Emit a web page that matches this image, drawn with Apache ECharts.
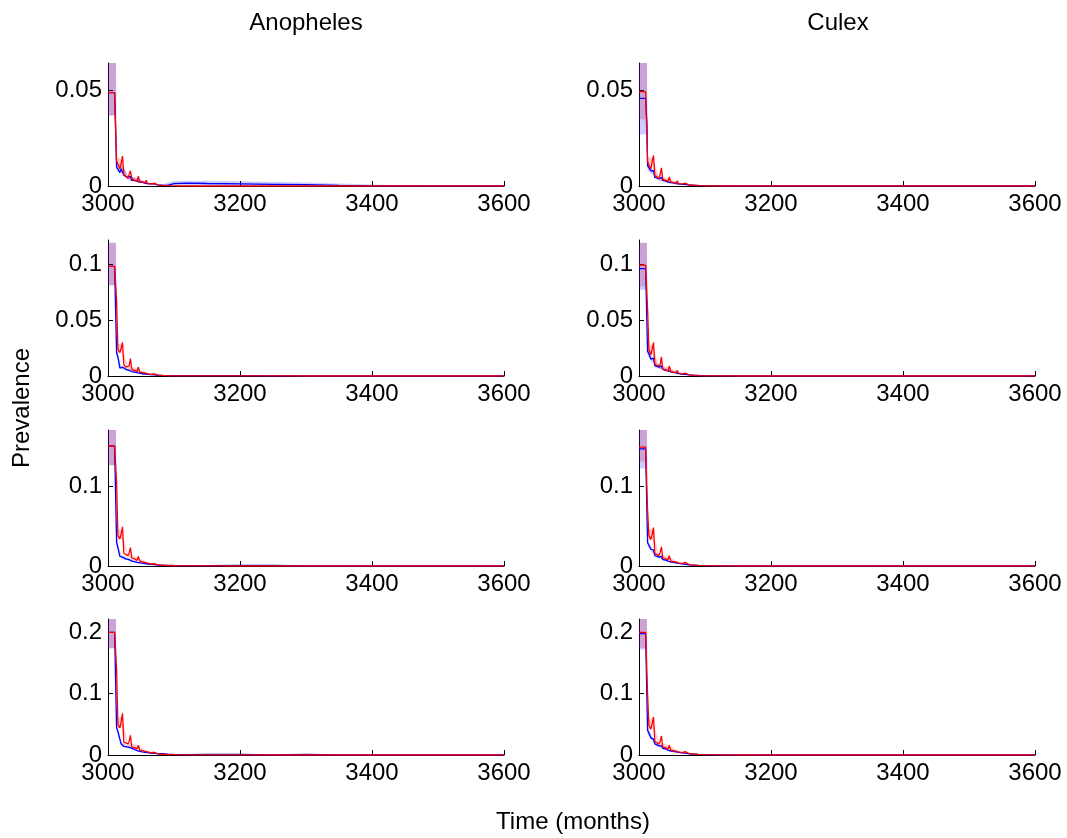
<!DOCTYPE html>
<html><head><meta charset="utf-8">
<script src="https://cdn.jsdelivr.net/npm/echarts@6/dist/echarts.min.js"></script>
<style>html,body{margin:0;padding:0;background:#fff}#c{width:1067px;height:838px}</style>
</head><body><div id="c"></div>
<script>
// time (months) for the lines
const T = [3000,3010,3012,3013,3015, 3018,3020,3022,3024,3027, 3030,3032,3034,3036,3040, 3044,3046,3048,3052,3056, 3058,3060,3065,3070,3072, 3076,3082,3090,3100,3120, 3150,3200,3250,3300,3350, 3400,3500,3600];
// time (months) for the shaded bands
const TB = [3000,3012,3013,3020,3030, 3045,3060,3080,3100,3150, 3200,3300,3400,3500,3600];

const colTitles = ['Anopheles', 'Culex'];
const xTickVals = [3000, 3200, 3400, 3600];
const yMaxRows = [0.0645, 0.1215, 0.170, 0.2217];
const yTickRows = [[0, 0.05], [0, 0.05, 0.1], [0, 0.1], [0, 0.1, 0.2]];

// ---- Row 1 ----
const A1_red  = [0.049,0.049,0.049,0.013,0.0115, 0.009,0.012,0.0157,0.006,0.005, 0.004,0.0045,0.008,0.004,0.003, 0.0025,0.0052,0.002,0.002,0.0016, 0.003,0.0013,0.001,0.0015,0.0007, 0.0005,0.0003,0.0002,0.0001,0, 0,0,0,0,0, 0,0,0];
const A1_blue = [0.049,0.049,0.049,0.010,0.0105, 0.007,0.009,0.0095,0.0055,0.006, 0.0045,0.004,0.005,0.003,0.003, 0.0025,0.003,0.002,0.0022,0.0015, 0.0022,0.0012,0.0012,0.0011,0.0008, 0.0006,0.0004,0.0003,0.0012,0.0015, 0.0013,0.0011,0.0009,0.0007,0.0003, 0.0001,0,0];
const A1_redLo  = [0.037,0.037,0.011,0.010,0.003, 0.002,0.001,0.0002,0,0, 0,0,0,0,0];
const A1_redHi  = [0.07,0.07,0.015,0.014,0.005, 0.004,0.002,0.0006,0.0002,0.0001, 0.0001,0.0001,0,0,0];
const A1_blueLo = [0.037,0.037,0.008,0.007,0.0035, 0.002,0.0008,0.0002,0.0003,0.0005, 0.0004,0.0002,0,0,0];
const A1_blueHi = [0.07,0.07,0.012,0.011,0.0055, 0.004,0.0016,0.0007,0.0026,0.0028, 0.0025,0.0018,0.0008,0,0];

const C1_red  = [0.0495,0.0495,0.0495,0.0128,0.011, 0.009,0.013,0.016,0.0055,0.005, 0.004,0.006,0.0095,0.0035,0.003, 0.0025,0.0048,0.0022,0.0018,0.0015, 0.0027,0.0012,0.001,0.0015,0.0008, 0.0005,0.0005,0.0002,0.0001,0, 0,0,0,0,0, 0,0,0];
const C1_blue = [0.046,0.046,0.033,0.0107,0.0095, 0.008,0.0075,0.008,0.0045,0.0045, 0.0038,0.0035,0.0045,0.003,0.0027, 0.002,0.0025,0.0018,0.0016,0.0013, 0.0016,0.0011,0.0009,0.0008,0.0006, 0.0005,0.0004,0.0003,0.0002,0.0001, 0,0,0,0,0, 0,0,0];
const C1_redLo  = [0.035,0.035,0.011,0.011,0.003, 0.002,0.0008,0.0003,0,0, 0,0,0,0,0];
const C1_redHi  = [0.07,0.07,0.015,0.015,0.005, 0.004,0.0016,0.0007,0.0002,0, 0,0,0,0,0];
const C1_blueLo = [0.027,0.027,0.008,0.006,0.0028, 0.0016,0.0007,0.0002,0,0, 0,0,0,0,0];
const C1_blueHi = [0.07,0.07,0.013,0.009,0.0048, 0.003,0.0015,0.0006,0.0004,0.0001, 0,0,0,0,0];

// ---- Row 2 ----
const A2_red  = [0.098,0.098,0.098,0.068,0.024, 0.021,0.025,0.030,0.010,0.008, 0.0075,0.009,0.0155,0.006,0.005, 0.004,0.008,0.0035,0.003,0.0028, 0.0038,0.002,0.0015,0.002,0.001, 0.0008,0.0005,0.0003,0.0002,0.0002, 0.0002,0.0001,0.0001,0,0, 0,0,0];
const A2_blue = [0.098,0.098,0.098,0.021,0.017, 0.007,0.0075,0.008,0.007,0.006, 0.0055,0.005,0.005,0.004,0.0035, 0.003,0.0035,0.0025,0.002,0.0018, 0.002,0.0015,0.0012,0.001,0.0008, 0.0006,0.0005,0.0004,0.0004,0.0004, 0.0003,0.0003,0.0002,0.0001,0, 0,0,0];
const A2_redLo  = [0.081,0.081,0.019,0.021,0.006, 0.004,0.0015,0.0003,0,0, 0,0,0,0,0];
const A2_redHi  = [0.119,0.119,0.028,0.029,0.009, 0.007,0.0025,0.0009,0.0004,0.0003, 0.0002,0.0001,0,0,0];
const A2_blueLo = [0.081,0.081,0.018,0.006,0.0045, 0.0026,0.0011,0.0003,0.0002,0.0002, 0.0001,0,0,0,0];
const A2_blueHi = [0.119,0.119,0.024,0.009,0.0065, 0.004,0.002,0.0008,0.0007,0.0006, 0.0005,0.0003,0.0001,0,0];

const C2_red  = [0.099,0.099,0.099,0.06,0.024, 0.019,0.024,0.030,0.011,0.009, 0.008,0.010,0.017,0.006,0.005, 0.0045,0.009,0.004,0.0035,0.003, 0.005,0.0025,0.0018,0.0025,0.0012, 0.001,0.0007,0.0004,0.0002,0.0001, 0,0,0,0,0, 0,0,0];
const C2_blue = [0.096,0.096,0.096,0.022,0.02, 0.015,0.014,0.016,0.009,0.009, 0.008,0.0075,0.009,0.006,0.0055, 0.0045,0.005,0.0038,0.0032,0.0028, 0.003,0.0022,0.0018,0.0015,0.0012, 0.001,0.0008,0.0006,0.0004,0.0002, 0.0001,0,0,0,0, 0,0,0];
const C2_redLo  = [0.08,0.08,0.019,0.020,0.0065, 0.005,0.0018,0.0005,0,0, 0,0,0,0,0];
const C2_redHi  = [0.119,0.119,0.028,0.028,0.0095, 0.008,0.003,0.001,0.0004,0.0001, 0,0,0,0,0];
const C2_blueLo = [0.077,0.077,0.018,0.012,0.0065, 0.0038,0.0017,0.0005,0.0002,0, 0,0,0,0,0];
const C2_blueHi = [0.119,0.119,0.026,0.017,0.0095, 0.006,0.0028,0.0011,0.0006,0.0002, 0,0,0,0,0];

// ---- Row 3 ----
const A3_red  = [0.150,0.150,0.150,0.105,0.038, 0.034,0.040,0.049,0.016,0.014, 0.013,0.016,0.023,0.010,0.009, 0.007,0.012,0.006,0.005,0.0045, 0.0065,0.0035,0.0025,0.003,0.0018, 0.0013,0.001,0.0006,0.0003,0.0002, 0.0001,0,0,0,0, 0,0,0];
const A3_blue = [0.150,0.150,0.150,0.030,0.028, 0.012,0.011,0.011,0.010,0.009, 0.0085,0.008,0.0075,0.006,0.0055, 0.0045,0.005,0.004,0.0035,0.003, 0.003,0.0025,0.002,0.0017,0.0014, 0.0012,0.001,0.0008,0.0006,0.0004, 0.0003,0.0008,0.0008,0,0, 0,0,0];
const A3_redLo  = [0.126,0.126,0.032,0.034,0.011, 0.007,0.0028,0.0007,0.0001,0, 0,0,0,0,0];
const A3_redHi  = [0.18,0.18,0.045,0.046,0.015, 0.011,0.0042,0.0014,0.0005,0.0003, 0.0002,0,0,0,0];
const A3_blueLo = [0.126,0.126,0.026,0.009,0.007, 0.004,0.002,0.0007,0.0004,0.0001, 0.0005,0,0,0,0];
const A3_blueHi = [0.18,0.18,0.034,0.013,0.010, 0.0058,0.003,0.0014,0.0009,0.0006, 0.0012,0.0004,0,0,0];

const C3_red  = [0.1486,0.1486,0.1486,0.07,0.038, 0.033,0.040,0.048,0.016,0.014, 0.013,0.017,0.024,0.010,0.009, 0.008,0.013,0.006,0.0055,0.005, 0.0075,0.004,0.003,0.0045,0.0022, 0.0017,0.0012,0.0007,0.0004,0.0001, 0,0,0,0,0, 0,0,0];
const C3_blue = [0.1465,0.1465,0.1465,0.029,0.026, 0.021,0.019,0.02,0.013,0.013, 0.011,0.0105,0.012,0.008,0.0075, 0.006,0.0065,0.005,0.0045,0.004, 0.0042,0.0032,0.0026,0.0022,0.0018, 0.0015,0.0012,0.0008,0.0005,0.0002, 0,0,0,0,0, 0,0,0];
const C3_redLo  = [0.1305,0.1305,0.032,0.034,0.011, 0.008,0.0032,0.0009,0.0001,0, 0,0,0,0,0];
const C3_redHi  = [0.18,0.18,0.045,0.047,0.015, 0.012,0.0048,0.0017,0.0007,0.0001, 0,0,0,0,0];
const C3_blueLo = [0.122,0.122,0.025,0.016,0.0095, 0.005,0.0026,0.001,0.0003,0, 0,0,0,0,0];
const C3_blueHi = [0.18,0.18,0.033,0.022,0.0125, 0.0072,0.0038,0.0016,0.0007,0.0002, 0,0,0,0,0];

// ---- Row 4 ----
const A4_red  = [0.200,0.200,0.200,0.141,0.050, 0.044,0.055,0.068,0.021,0.019, 0.018,0.022,0.032,0.013,0.012, 0.010,0.016,0.008,0.007,0.006, 0.0085,0.005,0.0035,0.0045,0.0025, 0.0018,0.0012,0.0008,0.0005,0.0003, 0.0002,0.0001,0,0,0, 0,0,0];
const A4_blue = [0.200,0.200,0.200,0.044,0.039, 0.026,0.018,0.016,0.014,0.0135, 0.013,0.012,0.012,0.010,0.009, 0.007,0.008,0.006,0.005,0.0045, 0.005,0.0038,0.003,0.0032,0.0025, 0.002,0.0022,0.0012,0.0008,0.0005, 0.0008,0.0008,0.0002,0.0008,0, 0,0,0];
const A4_redLo  = [0.174,0.174,0.042,0.047,0.015, 0.010,0.004,0.001,0.0002,0, 0,0,0,0,0];
const A4_redHi  = [0.23,0.23,0.058,0.063,0.021, 0.015,0.006,0.0017,0.0008,0.0004, 0.0002,0,0,0,0];
const A4_blueLo = [0.174,0.174,0.038,0.015,0.011, 0.006,0.003,0.0015,0.0005,0.0005, 0.0005,0.0004,0,0,0];
const A4_blueHi = [0.23,0.23,0.05,0.021,0.015, 0.009,0.0046,0.0028,0.0012,0.0011, 0.0011,0.0012,0.0002,0,0];

const C4_red  = [0.200,0.200,0.200,0.1,0.048, 0.042,0.052,0.062,0.022,0.019, 0.018,0.022,0.031,0.013,0.012, 0.010,0.016,0.008,0.007,0.0065, 0.0095,0.005,0.004,0.0055,0.003, 0.0022,0.0016,0.001,0.0005,0.0002, 0,0,0,0,0, 0,0,0];
const C4_blue = [0.198,0.198,0.198,0.04,0.036, 0.028,0.026,0.026,0.018,0.017, 0.015,0.014,0.015,0.011,0.010, 0.008,0.0085,0.0065,0.006,0.005, 0.0055,0.0042,0.0035,0.003,0.0025, 0.002,0.0016,0.0011,0.0007,0.0004, 0.0001,0,0,0,0, 0,0,0];
const C4_redLo  = [0.175,0.175,0.04,0.045,0.015, 0.010,0.004,0.0013,0.0002,0, 0,0,0,0,0];
const C4_redHi  = [0.23,0.23,0.056,0.06,0.021, 0.016,0.006,0.0021,0.0008,0.0002, 0,0,0,0,0];
const C4_blueLo = [0.172,0.172,0.034,0.022,0.0125, 0.007,0.0035,0.0013,0.0004,0, 0,0,0,0,0];
const C4_blueHi = [0.23,0.23,0.046,0.030,0.0175, 0.010,0.005,0.0021,0.001,0.0003, 0,0,0,0,0];

const panels = [
  {row:0,col:0,red:A1_red,blue:A1_blue,rLo:A1_redLo,rHi:A1_redHi,bLo:A1_blueLo,bHi:A1_blueHi},
  {row:0,col:1,red:C1_red,blue:C1_blue,rLo:C1_redLo,rHi:C1_redHi,bLo:C1_blueLo,bHi:C1_blueHi},
  {row:1,col:0,red:A2_red,blue:A2_blue,rLo:A2_redLo,rHi:A2_redHi,bLo:A2_blueLo,bHi:A2_blueHi},
  {row:1,col:1,red:C2_red,blue:C2_blue,rLo:C2_redLo,rHi:C2_redHi,bLo:C2_blueLo,bHi:C2_blueHi},
  {row:2,col:0,red:A3_red,blue:A3_blue,rLo:A3_redLo,rHi:A3_redHi,bLo:A3_blueLo,bHi:A3_blueHi},
  {row:2,col:1,red:C3_red,blue:C3_blue,rLo:C3_redLo,rHi:C3_redHi,bLo:C3_blueLo,bHi:C3_blueHi},
  {row:3,col:0,red:A4_red,blue:A4_blue,rLo:A4_redLo,rHi:A4_redHi,bLo:A4_blueLo,bHi:A4_blueHi},
  {row:3,col:1,red:C4_red,blue:C4_blue,rLo:C4_redLo,rHi:C4_redHi,bLo:C4_blueLo,bHi:C4_blueHi}
];

// layout
const FONT = '"Liberation Sans", Arial, Helvetica, sans-serif';
const colLeft = [108, 639];
const colWidth = 396;
const rowTop = [63, 240, 430, 619];
const rowHeight = [123, 136, 136, 136];

const grids = [], xAxes = [], yAxes = [], series = [];
const pair = (xs, ys) => xs.map((x, i) => [x, ys[i]]);

function bandSeries(i, xs, lo, hi, color) {
  return {
    type: 'custom', xAxisIndex: i, yAxisIndex: i, silent: true, clip: true, animation: false,
    data: [[xs[0], lo[0]]],
    renderItem: function (params, api) {
      const pts = [];
      for (let k = 0; k < xs.length; k++) pts.push(api.coord([xs[k], hi[k]]));
      for (let k = xs.length - 1; k >= 0; k--) pts.push(api.coord([xs[k], lo[k]]));
      return {type: 'polygon', shape: {points: pts}, style: {fill: color, stroke: null}};
    }
  };
}

panels.forEach((p, i) => {
  grids.push({left: colLeft[p.col], top: rowTop[p.row], width: colWidth, height: rowHeight[p.row], containLabel: false});
  xAxes.push({
    type: 'value', gridIndex: i, min: 3000, max: 3600, interval: 200,
    axisLine: {show: true, onZero: false, lineStyle: {color: '#000', width: 1}},
    axisTick: {show: true, inside: true, length: 5, lineStyle: {color: '#000'}},
    axisLabel: {show: true, fontSize: 24, fontFamily: FONT, color: '#000', margin: 6,
      customValues: xTickVals, formatter: v => String(v)},
    splitLine: {show: false}
  });
  yAxes.push({
    type: 'value', gridIndex: i, min: 0, max: yMaxRows[p.row],
    axisLine: {show: true, onZero: false, lineStyle: {color: '#000', width: 1}},
    axisTick: {show: true, inside: true, length: 5, lineStyle: {color: '#000'}, customValues: yTickRows[p.row]},
    axisLabel: {show: true, fontSize: 24, fontFamily: FONT, color: '#000', margin: 6,
      customValues: yTickRows[p.row], formatter: v => String(v)},
    splitLine: {show: false}
  });
  const base = {xAxisIndex: i, yAxisIndex: i, type: 'line', symbol: 'none', silent: true, animation: false};
  series.push(bandSeries(i, TB, p.rLo, p.rHi, 'rgba(255,0,0,0.2)'));
  series.push(bandSeries(i, TB, p.bLo, p.bHi, 'rgba(0,0,255,0.2)'));
  series.push(Object.assign({}, base, {data: pair(T, p.blue), lineStyle: {color: '#0000ff', width: 1.3}}));
  series.push(Object.assign({}, base, {data: pair(T, p.red), lineStyle: {color: '#ff0000', width: 1.3}}));
});

const chart = echarts.init(document.getElementById('c'), null, {renderer: 'canvas'});
chart.setOption({
  backgroundColor: '#fff',
  animation: false,
  grid: grids, xAxis: xAxes, yAxis: yAxes, series: series,
  graphic: [
    {type: 'text', x: 306, y: 23, style: {text: colTitles[0], font: '24px ' + FONT, fill: '#000', align: 'center', verticalAlign: 'middle'}},
    {type: 'text', x: 838, y: 23, style: {text: colTitles[1], font: '24px ' + FONT, fill: '#000', align: 'center', verticalAlign: 'middle'}},
    {type: 'text', x: 573, y: 822, style: {text: 'Time (months)', font: '24px ' + FONT, fill: '#000', align: 'center', verticalAlign: 'middle'}},
    {type: 'text', x: 22, y: 408, rotation: Math.PI / 2, style: {text: 'Prevalence', font: '24px ' + FONT, fill: '#000', align: 'center', verticalAlign: 'middle'}}
  ]
});
</script></body></html>
